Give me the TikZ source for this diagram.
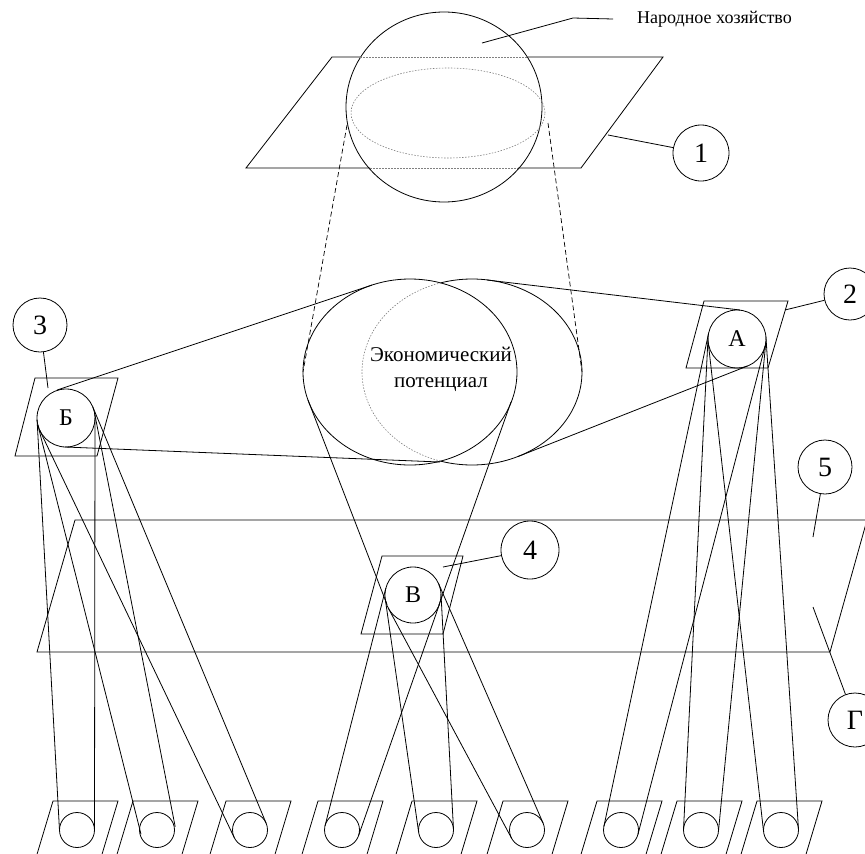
\documentclass[tikz,border=0pt]{standalone}
\usepackage{fontspec}
\setmainfont{Liberation Serif}
\newcommand\beltpair[6]{%
  \pgfmathsetmacro\bdx{#4-#1}%
  \pgfmathsetmacro\bdy{#5-#2}%
  \pgfmathsetmacro\bdd{100*veclen(\bdx/100,\bdy/100)}%
  \pgfmathsetmacro\bth{atan2(\bdy,\bdx)}%
  \pgfmathsetmacro\bal{acos((#3-#6)/\bdd)}%
  \draw[ln] ({#1+#3*cos(\bth+\bal)},{#2+#3*sin(\bth+\bal)}) -- ({#4+#6*cos(\bth+\bal)},{#5+#6*sin(\bth+\bal)});
  \draw[ln] ({#1+#3*cos(\bth-\bal)},{#2+#3*sin(\bth-\bal)}) -- ({#4+#6*cos(\bth-\bal)},{#5+#6*sin(\bth-\bal)});
}
\begin{document}
\begin{tikzpicture}[x=1pt,y=-1pt,
  ln/.style={line width=0.8pt},
  hid/.style={line width=0.6pt, gray, dash pattern=on 1.5pt off 1.5pt},
  dsh/.style={line width=0.7pt, dash pattern=on 5pt off 3pt},
  lab/.style={circle, draw, line width=0.8pt, inner sep=0pt, font=\fontsize{28}{28}\selectfont},
  letc/.style={circle, draw, line width=0.8pt, inner sep=0pt, font=\fontsize{24}{24}\selectfont},
  smallc/.style={circle, draw, line width=0.8pt, minimum size=35pt, inner sep=0pt}]
\fill[white] (0,0) rectangle (865,854);
\useasboundingbox (0,0) rectangle (865,854);
\clip (0,0) rectangle (865,854);

% --- top: sphere and plane 1
\draw[ln] (444,107) ellipse [x radius=98pt, y radius=95pt];
\draw[hid] (448,113) ellipse [x radius=97pt, y radius=45pt];
\draw[ln] (360,57) -- (332,57) -- (246,168) -- (370,168);
\draw[ln] (528,57) -- (663,57) -- (581,168) -- (518,168);
\draw[hid] (360,57) -- (528,57);
\draw[hid] (370,168) -- (518,168);
\node[font=\fontsize{18}{20}\selectfont, anchor=west, inner sep=0pt] (nh) at (637,19) {Народное хозяйство};
\draw[ln] (482,43) -- (573,18) -- ([xshift=-24pt]nh.west);
\node[lab, minimum size=56pt] (l1) at (701,153) {1};
\draw[ln] (608,135) -- (l1);

% --- dashed projection lines
\draw[dsh] (347,125) -- (303,372);
\draw[dsh] (548,123) -- (582,372);

% --- economic potential
\draw[ln] (410,372) ellipse [x radius=107pt, y radius=93pt];
\draw[ln] plot[domain=-106.6:106.6, samples=80, smooth] ({472+110*cos(\x)},{372+93*sin(\x)});
\draw[hid] plot[domain=106.6:253.4, samples=60, smooth] ({472+110*cos(\x)},{372+93*sin(\x)});
\node[align=center, font=\fontsize{21}{26}\selectfont] (ep) at (441,369) {Экономический\\потенциал};

% --- small planes with A, B, V
\draw[ln] (35,378) -- (118,378) -- (97,456) -- (15,456) -- cycle;
\draw[ln] (704,301) -- (788,301) -- (768,368) -- (686,368) -- cycle;
\draw[ln] (382,556) -- (463,556) -- (443,634) -- (361,634) -- cycle;
\node[letc, minimum size=58pt] (cB) at (66,418) {Б};
\node[letc, minimum size=58pt] (cA) at (737,339) {А};
\node[letc, minimum size=56pt] (cV) at (413,595) {В};

% --- tangent lines ellipses -> circles
\draw[ln] (57,390) -- (372,285);
\draw[ln] (65,447) -- (440,462);
\draw[ln] (487,280) -- (740,310);
\draw[ln] (518,456.5) -- (747.5,366);
\draw[ln] (308,400) -- (387,604.5);
\draw[ln] (511,402) -- (439,605);

% --- plane 5
\draw[ln] (75,520) -- (867,520) -- (830,652) -- (37,652) -- cycle;

% --- bottom row
\foreach \t [count=\i] in {53,133,226,318,412,503,597,677,757} {
  \draw[ln] ({\t-18},861) -- (\t,801) -- ({\t+65},801) -- ({\t+47},861);
  \node[smallc] (s\i) at ({\t+24},830) {};
}

% --- belts
\beltpair{66}{418}{29}{77}{830}{17.5}
\beltpair{66}{418}{29}{158}{830}{17.5}
\beltpair{66}{418}{29}{250}{830}{17.5}
\beltpair{413}{595}{28}{342}{830}{17.5}
\beltpair{413}{595}{28}{436}{830}{17.5}
\beltpair{413}{595}{28}{527}{830}{17.5}
\beltpair{737}{339}{29}{621}{830}{17.5}
\beltpair{737}{339}{29}{701}{830}{17.5}
\beltpair{737}{339}{29}{781}{830}{17.5}

% --- labels
\node[lab, minimum size=52pt] (l2) at (850,294) {2};
\draw[ln] (785,310) -- (l2);
\node[lab, minimum size=54pt] (l3) at (40,325) {3};
\draw[ln] (48,388) -- (l3);
\node[lab, minimum size=58pt] (l4) at (530,550) {4};
\draw[ln] (443,567) -- (l4);
\node[lab, minimum size=54pt] (l5) at (825,467) {5};
\draw[ln] (813,537) -- (l5);
\node[lab, minimum size=54pt] (lG) at (855,720) {Г};
\draw[ln] (813,607) -- (lG);
\end{tikzpicture}
\end{document}
